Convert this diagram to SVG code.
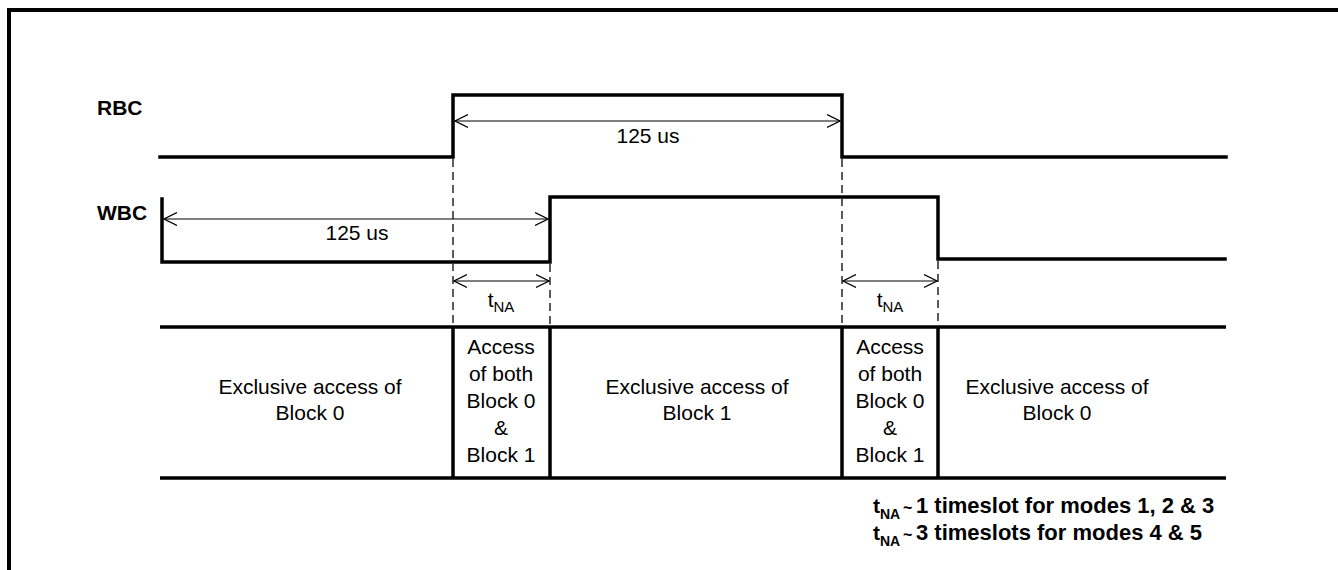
<svg xmlns="http://www.w3.org/2000/svg" width="1338" height="570" viewBox="0 0 1338 570">
<style>
.sig{fill:none;stroke:#000;stroke-width:3.5;stroke-linejoin:miter;stroke-linecap:square}
.frame{fill:none;stroke:#000;stroke-width:4}
.dash{fill:none;stroke:#333;stroke-width:1.6;stroke-dasharray:8,5}
.dim{fill:none;stroke:#000;stroke-width:1.2;marker-start:url(#ah);marker-end:url(#ah)}
.tbl{fill:none;stroke:#000;stroke-width:3.5}
text{font-family:"Liberation Sans",Arial,Helvetica,sans-serif;font-size:21px;fill:#000}
.c{text-anchor:middle}
.b{font-weight:bold}
</style>
<defs>
<marker id="ah" viewBox="0 0 14 14" refX="13" refY="7" markerWidth="14" markerHeight="14" markerUnits="userSpaceOnUse" orient="auto-start-reverse">
<path d="M0,0.5 L13,7 L0,13.5" fill="none" stroke="#000" stroke-width="1.2"/>
</marker>
</defs>
<rect width="1338" height="570" fill="#fff"/>
<path class="frame" d="M9,570 V10 H1338"/>
<g id="labels">
<text class="b" x="97" y="115">RBC</text>
<text class="b" x="97" y="220">WBC</text>
</g>
<g id="rbc">
<path class="sig" d="M160,157 H453 V95 H842 V157 H1226"/>
</g>
<g id="wbc">
<path class="sig" d="M162,199 V262 H550 V197 H938 V259 H1225"/>
</g>
<g id="connectors">
<path class="dash" d="M453,159 V327"/>
<path class="dash" d="M550,264 V327"/>
<path class="dash" d="M842,159 V327"/>
<path class="dash" d="M938,261 V327"/>
<path class="dim" d="M455,121 H840"/>
<path class="dim" d="M164,219 H548"/>
<path class="dim" d="M454,281 H549"/>
<path class="dim" d="M843,281 H937"/>
</g>
<g id="dim-labels">
<text class="c" x="648" y="143">125 us</text>
<text class="c" x="357" y="240">125 us</text>
<text class="c" x="501" y="307">t<tspan font-size="15" dy="5">NA</tspan></text>
<text class="c" x="890" y="307">t<tspan font-size="15" dy="5">NA</tspan></text>
</g>
<g id="table">
<path class="tbl" d="M160,327 H1226 M160,478 H1226 M453,327 V478 M550,327 V478 M842,327 V478 M938,327 V478"/>
</g>
<g id="cell-excl-0a">
<text class="c" x="310" y="394">Exclusive access of</text>
<text class="c" x="310" y="420">Block 0</text>
</g>
<g id="cell-both-1">
<text class="c" x="501" y="354">Access</text>
<text class="c" x="501" y="381">of both</text>
<text class="c" x="501" y="408">Block 0</text>
<text class="c" x="501" y="435">&amp;</text>
<text class="c" x="501" y="462">Block 1</text>
</g>
<g id="cell-excl-1">
<text class="c" x="697" y="394">Exclusive access of</text>
<text class="c" x="697" y="420">Block 1</text>
</g>
<g id="cell-both-2">
<text class="c" x="890" y="354">Access</text>
<text class="c" x="890" y="381">of both</text>
<text class="c" x="890" y="408">Block 0</text>
<text class="c" x="890" y="435">&amp;</text>
<text class="c" x="890" y="462">Block 1</text>
</g>
<g id="cell-excl-0b">
<text class="c" x="1057" y="394">Exclusive access of</text>
<text class="c" x="1057" y="420">Block 0</text>
</g>
<g id="note">
<text class="b" x="873" y="513">t<tspan font-size="14" dy="6">NA</tspan><tspan font-size="16" x="903" dy="-6">~</tspan><tspan font-size="22" x="916">1 timeslot for modes 1, 2 &amp; 3</tspan></text>
<text class="b" x="873" y="540">t<tspan font-size="14" dy="6">NA</tspan><tspan font-size="16" x="903" dy="-6">~</tspan><tspan font-size="22" x="916">3 timeslots for modes 4 &amp; 5</tspan></text>
</g>
</svg>
